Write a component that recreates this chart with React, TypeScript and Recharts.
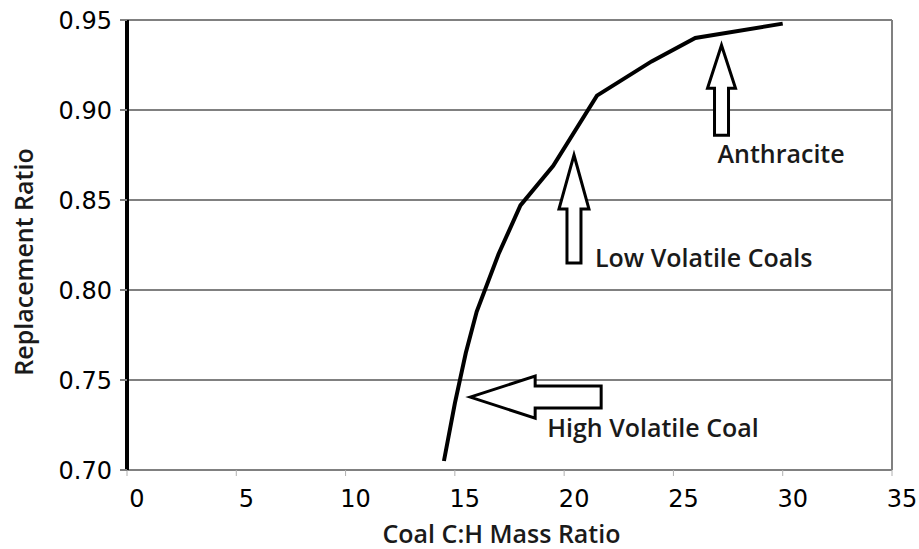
import React from "react";
import {
  CartesianGrid,
  Line,
  LineChart,
  ReferenceDot,
  ReferenceLine,
  XAxis,
  YAxis,
} from "recharts";

// coal C:H mass ratio vs replacement ratio
const chRatio = [14.5, 15.0, 15.5, 16.0, 17.0, 18.0, 19.5, 21.5, 24.0, 26.0, 30.0];
const replacement = [0.705, 0.737, 0.765, 0.788, 0.82, 0.847, 0.869, 0.908, 0.927, 0.94, 0.948];

const xTicks = [0, 5, 10, 15, 20, 25, 30, 35];
const yTicks = [0.7, 0.75, 0.8, 0.85, 0.9, 0.95];

// arrow tips in data units + label
const annotations = [
  { x: 27.2, y: 0.936, dir: "up", label: "Anthracite" },
  { x: 20.45, y: 0.875, dir: "up-long", label: "Low Volatile Coals" },
  { x: 15.7, y: 0.7405, dir: "left", label: "High Volatile Coal" },
];

const data = chRatio.map((x, i) => ({ x, y: replacement[i] }));

const labelFont = "'Open Sans', sans-serif";
const tickFont = "'DejaVu Sans', sans-serif";

function arrowShape(dir: string, label: string) {
  return (props: any) => {
    const { cx, cy } = props;
    let pts: number[][];
    let tx = 0;
    let ty = 0;
    if (dir === "up") {
      pts = [[0, 0], [14, 43], [7, 43], [7, 90], [-7, 90], [-7, 43], [-14, 43]];
      tx = -4;
      ty = 118;
    } else if (dir === "up-long") {
      pts = [[0, 0], [15, 54], [7, 54], [7, 108], [-7, 108], [-7, 54], [-15, 54]];
      tx = 21;
      ty = 112;
    } else {
      pts = [[0, 0], [65, -21], [65, -11], [131, -11], [131, 11], [65, 11], [65, 21]];
      tx = 77;
      ty = 40;
    }
    const d = pts.map((p) => `${cx + p[0]},${cy + p[1]}`).join(" ");
    return (
      <g>
        <polygon points={d} fill="#fff" stroke="#000" strokeWidth={3} strokeLinejoin="miter" />
        <text
          x={cx + tx}
          y={cy + ty}
          fontFamily={labelFont}
          fontWeight={600}
          fontSize={25}
          fill="#1a1a1a"
        >
          {label}
        </text>
      </g>
    );
  };
}

function XTitle(props: any) {
  const { x, y, width } = props.viewBox;
  return (
    <text
      x={x + width / 2 - 8}
      y={y + 73}
      textAnchor="middle"
      fontFamily={labelFont}
      fontWeight={600}
      fontSize={25}
      fill="#1a1a1a"
    >
      Coal C:H Mass Ratio
    </text>
  );
}

function YTitle(props: any) {
  const { y, height } = props.viewBox;
  const cx = 33;
  const cy = y + height / 2 + 17;
  return (
    <text
      x={cx}
      y={cy}
      transform={`rotate(-90, ${cx}, ${cy})`}
      textAnchor="middle"
      fontFamily={labelFont}
      fontWeight={600}
      fontSize={25}
      fill="#1a1a1a"
    >
      Replacement Ratio
    </text>
  );
}

export default function App() {
  return (
    <div style={{ position: "fixed", left: 0, top: 0, background: "#fff" }}>
      <LineChart
        width={919}
        height={549}
        data={data}
        margin={{ top: 20, right: 27, bottom: 0, left: 0 }}
      >
        <CartesianGrid vertical={false} stroke="#808080" strokeWidth={2} />
        <XAxis
          dataKey="x"
          type="number"
          domain={[0, 35]}
          ticks={xTicks}
          allowDataOverflow
          height={79}
          axisLine={{ stroke: "#808080", strokeWidth: 2 }}
          tickLine={{ stroke: "#b0b0b0", strokeWidth: 1 }}
          tickSize={6}
          tickMargin={14}
          tick={{ fill: "#000", fontSize: 24, fontFamily: tickFont, dx: 10 }}
          label={<XTitle />}
        />
        <YAxis
          type="number"
          domain={[0.7, 0.95]}
          ticks={yTicks}
          allowDataOverflow
          width={127}
          axisLine={{ stroke: "#000", strokeWidth: 4 }}
          tickLine={{ stroke: "#808080", strokeWidth: 2 }}
          tickSize={7}
          tickMargin={8}
          tickFormatter={(v) => Number(v).toFixed(2)}
          tick={{ fill: "#000", fontSize: 24, fontFamily: tickFont }}
          label={<YTitle />}
        />
        <ReferenceLine x={35} stroke="#808080" strokeWidth={2} />
        <Line
          type="linear"
          dataKey="y"
          stroke="#000"
          strokeWidth={4}
          dot={false}
          isAnimationActive={false}
        />
        {annotations.map((a) => (
          <ReferenceDot
            key={a.label}
            x={a.x}
            y={a.y}
            r={0}
            shape={arrowShape(a.dir, a.label)}
          />
        ))}
      </LineChart>
    </div>
  );
}
